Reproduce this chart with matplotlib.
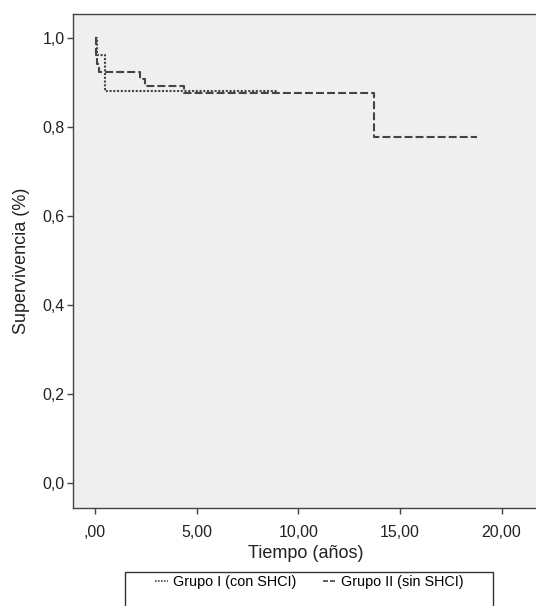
import numpy as np
import matplotlib
matplotlib.use("Agg")
import matplotlib.pyplot as plt
from matplotlib.lines import Line2D
from matplotlib.patches import Rectangle

# Kaplan-Meier step data (time in years, survival)
g1_time = [0.0, 0.08, 0.49, 8.95]
g1_surv = [1.0, 0.962, 0.881, 0.881]
g2_time = [0.0, 0.05, 0.12, 0.2, 2.2, 2.45, 4.4, 13.75, 18.8]
g2_surv = [1.0, 0.962, 0.942, 0.923, 0.908, 0.893, 0.877, 0.778, 0.778]

x_ticks = [0, 5, 10, 15, 20]
x_labels = [",00", "5,00", "10,00", "15,00", "20,00"]
y_ticks = [0.0, 0.2, 0.4, 0.6, 0.8, 1.0]
y_labels = ["0,0", "0,2", "0,4", "0,6", "0,8", "1,0"]
series = ["Grupo I (con SHCI)", "Grupo II (sin SHCI)"]

plt.rcParams["font.family"] = ["Liberation Sans", "DejaVu Sans"]
LC = "#444444"
TC = "#222222"
DOT = (0, (1, 0.8))
DASH = (0, (3.8, 1.5))

W, H = 536, 606
fig = plt.figure(figsize=(W/100, H/100), dpi=100)
ax = fig.add_axes([73/W, 98/H, 1.004 - 73/W, (508-14)/H])
ax.set_facecolor("#efefef")

ax.step(g1_time, g1_surv, where="post", color=LC, lw=1.5, linestyle=DOT)
ax.step(g2_time, g2_surv, where="post", color=LC, lw=1.5, linestyle=DASH)

ax.set_xlim(-1.08, 21.8)
ax.set_ylim(-0.056, 1.054)
ax.set_xticks(x_ticks)
ax.set_xticklabels(x_labels)
ax.set_yticks(y_ticks)
ax.set_yticklabels(y_labels)
ax.tick_params(labelsize=11.5, color=LC, length=4, width=1, labelcolor=TC)
ax.tick_params(axis="x", pad=8)
ax.tick_params(axis="y", pad=2)
for s in ax.spines.values():
    s.set_color(LC)
    s.set_linewidth(1)
ax.set_xlabel("Tiempo (años)", fontsize=13, color=TC, labelpad=4)
ax.set_ylabel("Supervivencia (%)", fontsize=13, color=TC, labelpad=9)

# legend box (cut off at the bottom of the image, as in the original)
fig.patches.append(Rectangle((125/W, -0.05), (493-125)/W, 0.05 + 1 - 572/H,
                             transform=fig.transFigure, fill=False,
                             edgecolor="#333333", lw=1))
handles = [Line2D([], [], color=LC, lw=1.2, linestyle=DOT),
           Line2D([], [], color=LC, lw=1.2, linestyle=(0, (3, 1.2)))]
leg = fig.legend(handles, series, loc="center left", ncol=2,
                 bbox_to_anchor=(155/W, 1 - 582/H), frameon=False,
                 fontsize=10.4, handlelength=0.9, handletextpad=0.35,
                 borderpad=0, borderaxespad=0, columnspacing=1.85)

fig.savefig("out.png", dpi=100)
